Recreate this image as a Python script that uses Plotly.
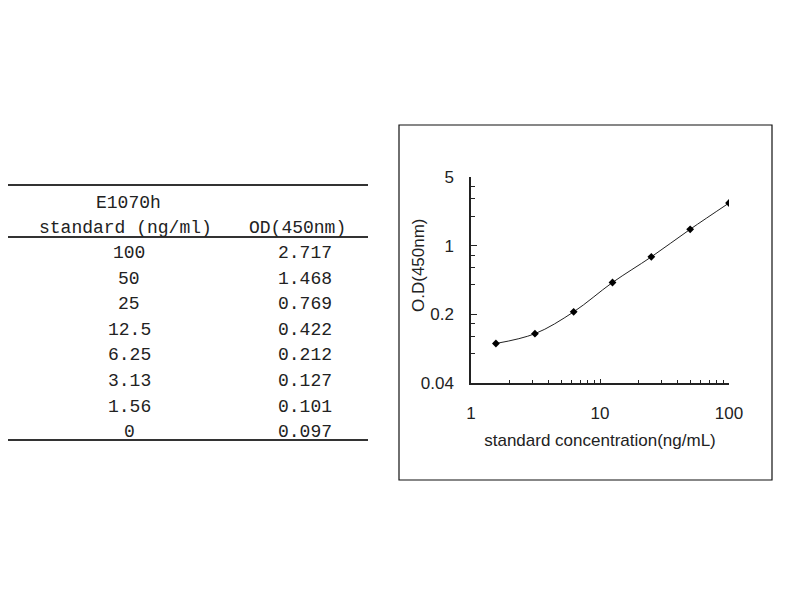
import plotly.graph_objects as go

# standard curve data (table + plotted points)
conc_labels = ["100", "50", "25", "12.5", "6.25", "3.13", "1.56", "0"]
od_labels = ["2.717", "1.468", "0.769", "0.422", "0.212", "0.127", "0.101", "0.097"]
conc = [100, 50, 25, 12.5, 6.25, 3.13, 1.56]
od = [2.717, 1.468, 0.769, 0.422, 0.212, 0.127, 0.101]

y_ticks = [0.04, 0.2, 1, 5]
y_ticktext = ["0.04", "0.2", "1", "5"]
y_minor = [0.08, 0.12, 0.16, 0.4, 0.6, 0.8, 2, 3, 4]
x_ticks = [1, 10, 100]
x_minor = [2, 3, 4, 5, 6, 7, 8, 9, 20, 30, 40, 50, 60, 70, 80, 90]

W, H = 800, 600
OFF = 8  # page body margin shifts the plot by 8px


def px(x):
    return (x - OFF) / W


def py(y):
    return 1 - (y - OFF) / H


fig = go.Figure()
fig.add_trace(go.Scatter(
    x=conc, y=od, mode="lines+markers",
    line=dict(color="#222", width=1, shape="spline", smoothing=1),
    marker=dict(symbol="diamond", size=6, color="#000"),
    showlegend=False, hoverinfo="x+y",
))

axis_font = dict(family="Liberation Sans, Arial", size=17, color="#222")

fig.update_layout(
    width=W, height=H,
    margin=dict(l=0, r=0, t=0, b=0, autoexpand=False),
    paper_bgcolor="white", plot_bgcolor="white",
    xaxis=dict(
        type="log", range=[0, 2], domain=[px(471), px(729)],
        tickvals=x_ticks, ticktext=[str(v) for v in x_ticks],
        ticks="inside", ticklen=4, tickcolor="#222",
        minor=dict(tickvals=x_minor, ticks="inside", ticklen=3, tickcolor="#222"),
        showline=True, linecolor="#222", linewidth=1.5,
        showgrid=False, zeroline=False, tickfont=axis_font,
        ticklabelstandoff=14, anchor="y", automargin=False,
        title=dict(text="standard concentration(ng/mL)",
                   font=dict(family="Liberation Sans, Arial", size=17, color="#222"),
                   standoff=12),
    ),
    yaxis=dict(
        type="log", range=[-1.39794, 0.69897], domain=[py(383), py(177)],
        tickvals=y_ticks, ticktext=y_ticktext,
        ticks="inside", ticklen=6, tickcolor="#222",
        minor=dict(tickvals=y_minor, ticks="inside", ticklen=4, tickcolor="#222"),
        showline=True, linecolor="#222", linewidth=1.5,
        showgrid=False, zeroline=False, tickfont=axis_font,
        ticklabelstandoff=12, anchor="x", automargin=False,
    ),
)

# y axis title placed by hand
fig.add_annotation(x=px(418), y=py(265), text="O.D(450nm)", textangle=-90,
                   showarrow=False, xref="paper", yref="paper",
                   xanchor="center", yanchor="middle", font=axis_font)

# chart frame
fig.add_shape(type="rect", xref="paper", yref="paper",
              x0=px(399), x1=px(772), y0=py(480), y1=py(125),
              line=dict(color="#111", width=1.2))

# table rules
for yy in [185, 237, 440]:
    fig.add_shape(type="line", xref="paper", yref="paper",
                  x0=px(7), x1=px(368), y0=py(yy), y1=py(yy),
                  line=dict(color="#333", width=2))

tfont = dict(family="Liberation Mono, DejaVu Sans Mono", size=18, color="#222")


def cell(x, y, text):
    fig.add_annotation(x=px(x), y=py(y), text=text, showarrow=False,
                       xref="paper", yref="paper", xanchor="center",
                       yanchor="middle", font=tfont)


cell(128, 203, "E1070h")
cell(125, 228, "standard (ng/ml)")
cell(297, 228, "OD(450nm)")

for i, (c, o) in enumerate(zip(conc_labels, od_labels)):
    yy = 253 + i * 25.6
    cell(129, yy, c)
    cell(305, yy, o)

fig.write_html("out.html")
